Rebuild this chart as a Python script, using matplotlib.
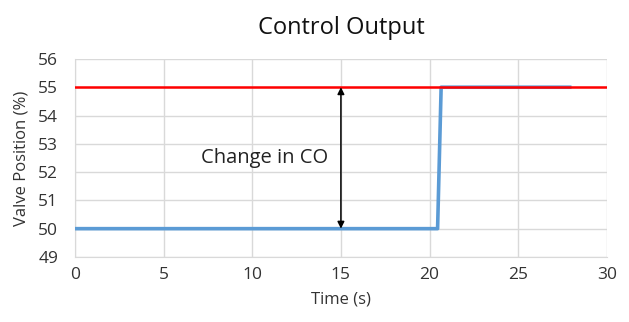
import matplotlib
matplotlib.use("Agg")
import matplotlib.pyplot as plt

# controller output step
time_s = [0, 20.45, 20.65, 28.0]
valve_pos = [50, 50, 55, 55]

# setpoint level
sp_time = [0, 30]
sp_level = [55, 55]

plt.rcParams["font.family"] = ["Open Sans", "DejaVu Sans"]

fig = plt.figure(figsize=(6.29, 3.22), dpi=100)
ax = fig.add_axes([0.119, 0.202, 0.846, 0.615])

ax.plot(time_s, valve_pos, color="#5B9BD5", lw=2.6, solid_capstyle="butt", zorder=3)
ax.plot(sp_time, sp_level, color="#FF0000", lw=1.8, zorder=4)

ax.annotate("", xy=(15, 55), xytext=(15, 50),
            arrowprops=dict(arrowstyle="<|-|>", color="black", lw=1.1,
                            mutation_scale=10, shrinkA=0, shrinkB=0), zorder=5)
ax.text(10.7, 52.5, "Change in CO", ha="center", va="center", fontsize=14.5,
        color="#222222")

ax.set_xlim(0, 30)
ax.set_ylim(49, 56)
ax.set_xticks(range(0, 31, 5))
ax.set_yticks(range(49, 57))
ax.grid(True, color="#D9D9D9", lw=1)
ax.set_axisbelow(True)
for s in ax.spines.values():
    s.set_visible(False)
ax.spines["left"].set_visible(True)
ax.spines["left"].set_color("#D9D9D9")
ax.spines["bottom"].set_visible(True)
ax.spines["bottom"].set_color("#D9D9D9")
ax.tick_params(length=0, labelsize=12.5, colors="#333333")
ax.tick_params(axis="y", pad=12)
ax.tick_params(axis="x", pad=7)
ax.set_xlabel("Time (s)", fontsize=12, color="#333333", labelpad=6)
ax.set_ylabel("Valve Position (%)", fontsize=12, color="#333333", labelpad=6)
ax.set_title("Control Output", fontsize=17, color="#111111", pad=18)

fig.savefig("out.png", dpi=100)
